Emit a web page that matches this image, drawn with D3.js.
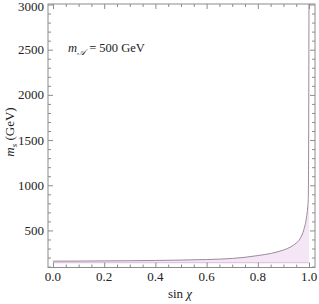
<!DOCTYPE html>
<html><head><meta charset="utf-8">
<script src="https://cdn.jsdelivr.net/npm/d3@7"></script>
<style>body{margin:0;background:#fff}svg{display:block}</style>
</head><body>
<script>
const sinChi = [0,0.1,0.2,0.3,0.4,0.5,0.6,0.7,0.75,0.8,0.85,0.9,0.93,0.95,0.965,0.98,0.99,0.995,0.997,0.9985,0.9995,1.0];
const mUpper = [160,161,163,165,168,172,178,190,203,222,245,283,320,360,408,511,640,760,842,1400,2500,3200];
const mLower = [143,143,143,143,143,143,143,143,143,143,143,143,143,143,143,143,143,143,143,143,143,143];
const xMajor = [0,0.2,0.4,0.6,0.8,1.0];
const xMajorLabels = ["0.0","0.2","0.4","0.6","0.8","1.0"];
const yMajor = [500,1000,1500,2000,2500,3000];
const yMajorLabels = ["500","1000","1500","2000","2500","3000"];

(function(){
const W=319,H=304;
const L=48,R=315,T=4,B=267.5;
const svg=d3.select("body").append("svg").attr("width",W).attr("height",H);
const x=d3.scaleLinear().domain([-0.0195,1.0234]).range([L,R]);
const y=d3.scaleLinear().domain([90,3000]).range([B,4.5]);
const font='"Liberation Serif","DejaVu Serif",serif';

svg.append("clipPath").attr("id","clip").append("rect").attr("x",L).attr("y",T).attr("width",R-L).attr("height",B-T);
const data=sinChi.map((s,i)=>({s,u:mUpper[i],l:mLower[i]}));
const g=svg.append("g").attr("clip-path","url(#clip)");
g.append("path").datum(data)
 .attr("d",d3.area().x(d=>x(d.s)).y0(d=>y(d.l)).y1(d=>y(d.u)).curve(d3.curveMonotoneX))
 .attr("fill","#f4e6f4");
g.append("path").datum(data)
 .attr("d",d3.line().x(d=>x(d.s)).y(d=>y(d.l)))
 .attr("fill","none").attr("stroke","#dcbcdc").attr("stroke-width",1);
g.append("path").datum(data)
 .attr("d",d3.line().x(d=>x(d.s)).y(d=>y(d.u)).curve(d3.curveMonotoneX))
 .attr("fill","none").attr("stroke","#9a8a9a").attr("stroke-width",1);

svg.append("rect").attr("x",L).attr("y",T).attr("width",R-L).attr("height",B-T)
 .attr("fill","none").attr("stroke","#8c8c8c").attr("stroke-width",1);

const tc="#8c8c8c";
const xMinor=d3.range(0,1.0001,0.05).filter(v=>!xMajor.some(m=>Math.abs(m-v)<1e-6));
const yMinor=d3.range(100,3001,100).filter(v=>!yMajor.includes(v));
const gBot=svg.append("g").attr("transform",`translate(0,${B})`);
gBot.call(d3.axisBottom(x).tickValues(xMajor).tickSize(-5).tickFormat(""));
gBot.append("g").call(d3.axisBottom(x).tickValues(xMinor).tickSize(-3).tickFormat(""));
const gTop=svg.append("g").attr("transform",`translate(0,${T})`);
gTop.call(d3.axisTop(x).tickValues(xMajor).tickSize(-5).tickFormat(""));
gTop.append("g").call(d3.axisTop(x).tickValues(xMinor).tickSize(-3).tickFormat(""));
const gLef=svg.append("g").attr("transform",`translate(${L},0)`);
gLef.call(d3.axisLeft(y).tickValues(yMajor).tickSize(-5).tickFormat(""));
gLef.append("g").call(d3.axisLeft(y).tickValues(yMinor).tickSize(-3).tickFormat(""));
const gRig=svg.append("g").attr("transform",`translate(${R},0)`);
gRig.call(d3.axisRight(y).tickValues(yMajor).tickSize(-5).tickFormat(""));
gRig.append("g").call(d3.axisRight(y).tickValues(yMinor).tickSize(-3).tickFormat(""));
svg.selectAll(".domain").remove();
svg.selectAll(".tick line").attr("stroke",tc);

svg.append("g").selectAll("text").data(xMajor).join("text")
 .attr("x",d=>x(d)).attr("y",281).attr("text-anchor","middle")
 .attr("font-family",font).attr("font-size",13).attr("fill","#222")
 .text((d,i)=>xMajorLabels[i]);
svg.append("g").selectAll("text").data(yMajor).join("text")
 .attr("x",44).attr("y",d=>Math.max(y(d)+4.5,10.5)).attr("text-anchor","end")
 .attr("font-family",font).attr("font-size",13).attr("fill","#222")
 .text((d,i)=>yMajorLabels[i]);

const xl=svg.append("text").attr("x",180).attr("y",298).attr("text-anchor","middle")
 .attr("font-family",font).attr("font-size",13).attr("fill","#222");
xl.append("tspan").text("sin ");
xl.append("tspan").attr("font-style","italic").text("χ");

const yl=svg.append("text").attr("transform","translate(14,132) rotate(-90)").attr("text-anchor","middle")
 .attr("font-family",font).attr("font-size",13).attr("fill","#222");
yl.append("tspan").attr("font-style","italic").text("m");
yl.append("tspan").attr("font-style","italic").attr("font-size",9).attr("dy",2.5).text("s");
yl.append("tspan").attr("dy",-2.5).text(" (GeV)");

const an=svg.append("text").attr("x",68).attr("y",52)
 .attr("font-family",font).attr("font-size",12.5).attr("fill","#222");
an.append("tspan").attr("font-style","italic").text("m");
an.append("tspan").attr("font-style","italic").attr("font-size",9).attr("dy",2.5).text("𝒜");
an.append("tspan").attr("dy",-2.5).text(" = 500 GeV");
})();
</script>
</body></html>
